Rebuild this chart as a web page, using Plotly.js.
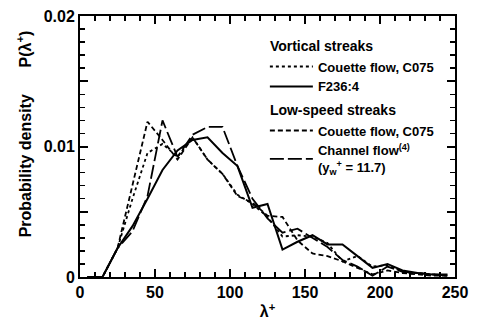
<!DOCTYPE html>
<html>
<head>
<meta charset="utf-8">
<script src="https://cdn.plot.ly/plotly-3.0.1.min.js"></script>
<style>html,body{margin:0;padding:0;background:#fff}#chart{width:483px;height:327px}</style>
</head>
<body>
<div id="chart"></div>
<script>
// bin centres of lambda+
const lambdaPlus = [5,15,25,35,45,55,65,75,85,95,105,115,125,135,145,155,165,175,185,195,205,215,225,235,245];
// Vortical streaks – Couette flow, C075 (dotted)
const vortCouette = [0,0,0.0022,0.0060,0.0095,0.0102,0.0092,0.0107,0.0090,0.0079,0.0063,0.0056,0.0046,0.0031,0.0032,0.0031,0.0026,0.0012,0.0016,0.0008,0.0009,0.0004,0.0003,0.0002,0.0001];
// Vortical streaks – F236:4 (solid)
const vortF236 = [0,0,0.0022,0.0039,0.0060,0.0082,0.0097,0.0105,0.0107,0.0095,0.0085,0.0053,0.0056,0.0021,0.0027,0.0032,0.0025,0.0025,0.0016,0.0007,0.0010,0.0005,0.0003,0.0002,0.0002];
// Low-speed streaks – Couette flow, C075 (dashed)
const lowCouette = [0,0,0.0022,0.0070,0.0119,0.0105,0.0090,0.0107,0.0090,0.0079,0.0062,0.0057,0.0047,0.0046,0.0028,0.0018,0.0016,0.0012,0.0007,0.0002,0.0005,0.0003,0.0002,0.0001,0.0001];
// Low-speed streaks – Channel flow (long dash)
const lowChannel = [0,0,0.0022,0.0035,0.0062,0.0120,0.0092,0.0109,0.0115,0.0115,0.0085,0.0060,0.0045,0.0034,0.0037,0.0030,0.0023,0.0013,0.0008,0.0001,0.0008,0.0004,0.0003,0.0002,0.0001];

// tick marks every 10 on x, every 0.001 on y; labels only on the major ones
const xTickVals = [0,10,20,30,40,50,60,70,80,90,100,110,120,130,140,150,160,170,180,190,200,210,220,230,240,250];
const xTickText = ['0','','','','','50','','','','','100','','','','','150','','','','','200','','','','','250'];
const yTickVals = [0,0.001,0.002,0.003,0.004,0.005,0.006,0.007,0.008,0.009,0.01,0.011,0.012,0.013,0.014,0.015,0.016,0.017,0.018,0.019,0.02];
const yTickText = ['0','','','','','','','','','','0.01','','','','','','','','','','0.02'];
const xRange = [0, 250];
const yRange = [0, 0.02];

const F = 'Liberation Sans, Arial, sans-serif';

function tr(y, name, dash, width, group, gtitle) {
  return {x: lambdaPlus, y: y, type: 'scatter', mode: 'lines', name: name,
    line: {color: '#000', dash: dash, width: width},
    legendgroup: group, legendgrouptitle: {text: gtitle, font: {family: F, size: 14, color: '#000', weight: 'bold'}}};
}

const data = [
  tr(vortCouette, 'Couette flow, C075', 'dot', 1.8, 'v', 'Vortical streaks'),
  tr(vortF236, 'F236:4', 'solid', 2, 'v', 'Vortical streaks'),
  tr(lowCouette, 'Couette flow, C075', '5px,3px', 1.8, 'l', 'Low-speed streaks'),
  tr(lowChannel, 'Channel flow<sup>(4)</sup><br>(y<sub>w</sub><sup>+</sup> = 11.7)', '14px,4px', 1.8, 'l', 'Low-speed streaks')
];

const axisCommon = {
  showgrid: false, zeroline: false, showline: true, linecolor: '#000', linewidth: 2, mirror: 'allticks',
  ticks: 'inside', ticklen: 5, tickwidth: 1.5, tickcolor: '#000',
  tickfont: {family: F, size: 16, color: '#000', weight: 'bold'}
};

const layout = {
  width: 483, height: 327,
  margin: {l: 80, r: 28, t: 16, b: 50},
  paper_bgcolor: '#fff', plot_bgcolor: '#fff',
  showlegend: true,
  legend: {x: 0.493, y: 0.945, xanchor: 'left', yanchor: 'top', bgcolor: 'rgba(0,0,0,0)',
    font: {family: F, size: 13, color: '#000', weight: 'bold'}, traceorder: 'grouped', tracegroupgap: 3, itemwidth: 43},
  xaxis: Object.assign({}, axisCommon, {
    range: xRange, tickmode: 'array', tickvals: xTickVals, ticktext: xTickText,
    minor: {dtick: 50, tick0: 0, ticks: 'inside', ticklen: 8, tickwidth: 2, tickcolor: '#000', showgrid: false},
    title: {text: 'λ<sup>+</sup>', font: {family: F, size: 16, color: '#000', weight: 'bold'}, standoff: 6}
  }),
  yaxis: Object.assign({}, axisCommon, {
    range: yRange, tickmode: 'array', tickvals: yTickVals, ticktext: yTickText,
    minor: {dtick: 0.005, tick0: 0, ticks: 'inside', ticklen: 8, tickwidth: 2, tickcolor: '#000', showgrid: false}
  }),
  annotations: [{
    xref: 'paper', yref: 'paper', x: -0.147, y: 0.55, xanchor: 'center', yanchor: 'middle',
    textangle: -90, showarrow: false,
    text: 'Probability density&nbsp;&nbsp;&nbsp;&nbsp;&nbsp;&nbsp;P(λ<sup>+</sup>)',
    font: {family: F, size: 16, color: '#000', weight: 'bold'}
  }]
};

Plotly.newPlot('chart', data, layout, {staticPlot: true, displayModeBar: false});
</script>
</body>
</html>
